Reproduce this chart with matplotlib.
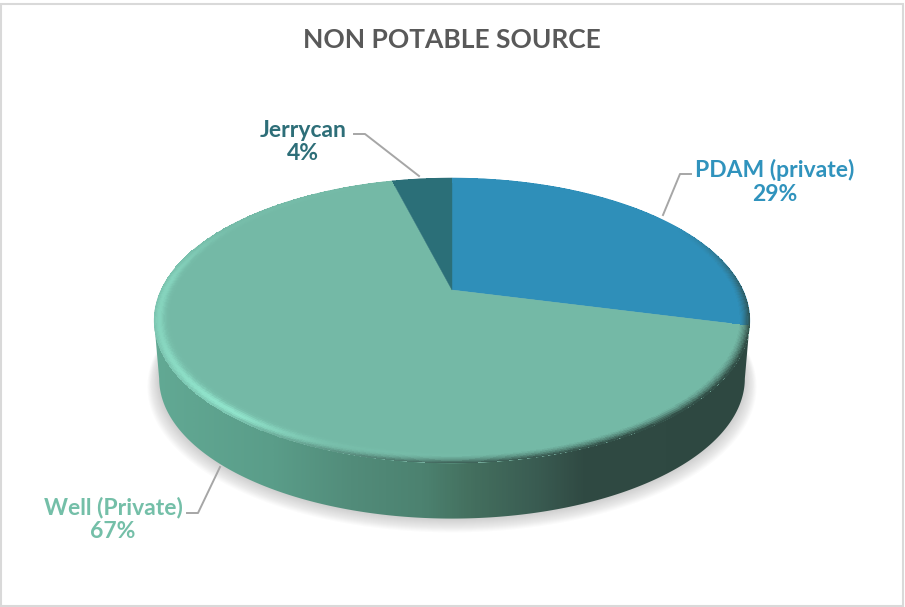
import numpy as np
import matplotlib
matplotlib.use('Agg')
import matplotlib.pyplot as plt
from matplotlib.colors import to_rgb, LinearSegmentedColormap
from matplotlib.patches import Polygon, Rectangle

title = 'NON POTABLE SOURCE'
categories = ['PDAM (private)', 'Well (Private)', 'Jerrycan']
values = [29, 67, 4]
colors = ['#2f8fb9', '#74b9a6', '#2b6f78']
text_colors = ['#3093bd', '#74bfa8', '#2d6e78']

plt.rcParams['font.family'] = ['Lato', 'DejaVu Sans']

# disc -> screen pixels, the k term gives the tilt of the pie
cx, cy = 452, 290
a, b, k = 291, 136, 0.214


def project(theta, r=1.0, scale=1.0, dy=0.0):
    theta = np.radians(theta)
    u = r * np.sin(theta)
    v = r * np.cos(theta)
    w = 1 + k * v
    return cx + scale * a * u / w, cy + dy - scale * b * v / w


fig = plt.figure(figsize=(9.05, 6.07), dpi=100)
ax = fig.add_axes([0, 0, 1, 1])
ax.set_xlim(0, 905)
ax.set_ylim(607, 0)
ax.axis('off')

ax.add_patch(Rectangle((1, 4), 902, 602, fill=False, edgecolor='#d9d9d9', linewidth=1.5))

all_theta = np.linspace(0, 360, 721)
wall_scale = 0.983
wall_dy = 58.5

# soft shadow under the pie
for i in range(14, 0, -1):
    sx, sy = project(all_theta, scale=wall_scale + 0.0028 * i, dy=wall_dy + 0.5 * i)
    ax.fill(sx, sy, color='#7f7f7f', alpha=0.027, linewidth=0, zorder=1)

# side wall with a left to right gradient
front = np.linspace(102.4, 257.6, 300)
top_x, top_y = project(front)
low_x, low_y = project(front, scale=wall_scale, dy=wall_dy)
wall = Polygon(np.column_stack([np.r_[top_x, low_x[::-1]], np.r_[top_y, low_y[::-1]]]),
               closed=True, facecolor='none', edgecolor='none', transform=ax.transData)
ax.add_patch(wall)
wall_cmap = LinearSegmentedColormap.from_list('wall', [
    (0.00, '#62a994'), (0.20, '#5a9d89'), (0.33, '#528c7a'), (0.45, '#4c8270'),
    (0.53, '#44705f'), (0.64, '#3a5c52'), (0.72, '#304a43'), (1.00, '#2e4841')])
gradient = np.linspace(0, 1, 600).reshape(1, -1)
im = ax.imshow(gradient, extent=(153, 750, 530, 300), aspect='auto', cmap=wall_cmap,
               interpolation='bilinear', zorder=2)
im.set_clip_path(wall)
ax.set_xlim(0, 905)
ax.set_ylim(607, 0)

# top of the pie, clockwise from twelve o'clock
angles = 360 * np.cumsum([0] + values) / sum(values)
for i in range(len(values)):
    th = np.linspace(angles[i], angles[i + 1], 200)
    ox, oy = project(th)
    ax.fill(np.r_[cx, ox], np.r_[cy, oy], color=colors[i], linewidth=0.3, edgecolor=colors[i], zorder=3)

# rounded edge of the top: lit at lower left, falling into the wall at lower right
light = to_rgb('#93e8cf')
dark = to_rgb('#2e4841')
for i in range(len(values)):
    if angles[i + 1] < 110 and values[i] < 20:
        continue
    t_edges = np.linspace(angles[i], angles[i + 1], 500)
    r_edges = np.linspace(0.945, 1.0, 16)
    T, R = np.meshgrid(t_edges, r_edges)
    X, Y = project(T, R)
    t_mid = 0.5 * (t_edges[:-1] + t_edges[1:])
    s = 0.5 * (r_edges[:-1] + r_edges[1:])
    s = (s - 0.945) / 0.055
    lit = np.interp(t_mid, [100, 170, 200, 218, 250, 275, 300, 340], [0, 0, 0.35, 1, 0.6, 0.55, 0.1, 0])
    shade = np.interp(t_mid, [60, 90, 110, 150, 180, 205, 225], [0, 0.7, 1, 1, 0.8, 0.25, 0])
    base = np.array(to_rgb(colors[i]))
    C = np.zeros((len(s), len(t_mid), 3))
    for j, sj in enumerate(s):
        peak = np.exp(-((sj - 0.7) / 0.3) ** 2)
        fall = np.clip((sj - 0.35) / 0.65, 0, 1) ** 1.5
        for c in range(3):
            C[j, :, c] = base[c] + lit * peak * (light[c] - base[c])
            C[j, :, c] += shade * fall * (dark[c] - C[j, :, c])
    ax.pcolormesh(X, Y, C, shading='flat', antialiased=False, linewidth=0, zorder=4)

# leader lines
line_color = '#a6a6a6'
ax.plot([691, 680, 663], [174, 174, 215], color=line_color, linewidth=1.4, zorder=5)
ax.plot([187, 198, 220], [513, 513, 467], color=line_color, linewidth=1.4, zorder=5)
ax.plot([354, 365, 419], [134, 134, 176], color=line_color, linewidth=1.4, zorder=5)

ax.text(452, 40, title, ha='center', va='center', fontsize=19, fontweight='bold', color='#595959')

label_pos = [(775, 182), (113, 519), (303, 142)]
for i in range(len(values)):
    ax.text(label_pos[i][0], label_pos[i][1], categories[i] + '\n' + str(values[i]) + '%',
            ha='center', va='center', fontsize=16.5, fontweight='bold',
            color=text_colors[i], linespacing=1.15, zorder=6)

fig.savefig('out.png', dpi=100)
